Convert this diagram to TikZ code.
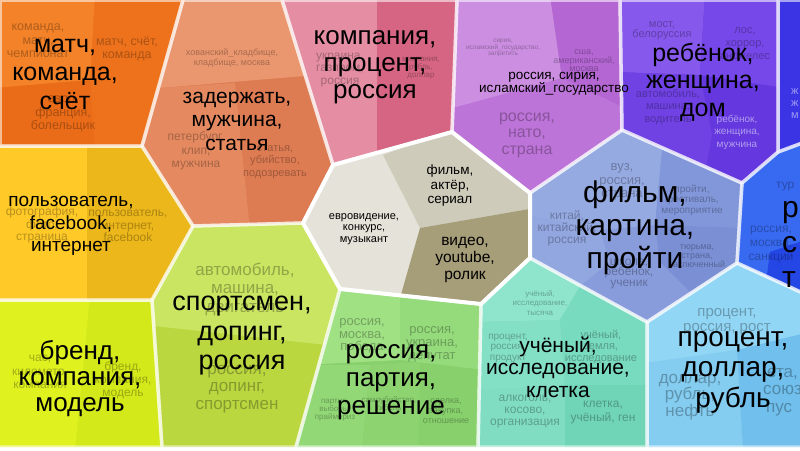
\documentclass[tikz,border=0pt]{standalone}
\usepackage{fontspec}
\setmainfont{Liberation Sans}
\newcommand{\fsz}[2]{\fontsize{#1}{#2}\selectfont}
\definecolor{orA}{RGB}{243,130,40}\definecolor{orB}{RGB}{238,114,28}\definecolor{orC}{RGB}{235,108,24}
\definecolor{saA}{RGB}{234,150,110}\definecolor{saB}{RGB}{229,138,96}\definecolor{saC}{RGB}{221,123,82}
\definecolor{piA}{RGB}{229,142,163}\definecolor{piB}{RGB}{213,101,131}
\definecolor{puA}{RGB}{203,142,224}\definecolor{puB}{RGB}{180,102,211}\definecolor{puC}{RGB}{189,116,216}
\definecolor{viA}{RGB}{134,88,236}\definecolor{viB}{RGB}{118,72,233}\definecolor{viC}{RGB}{112,66,228}\definecolor{viD}{RGB}{100,56,222}
\definecolor{dbl}{RGB}{58,52,228}
\definecolor{bbA}{RGB}{56,106,241}\definecolor{bbB}{RGB}{36,70,228}
\definecolor{slA}{RGB}{150,170,226}\definecolor{slB}{RGB}{130,151,218}\definecolor{slC}{RGB}{146,166,224}\definecolor{slD}{RGB}{122,143,212}\definecolor{slE}{RGB}{136,156,220}
\definecolor{lbA}{RGB}{146,214,245}\definecolor{lbB}{RGB}{132,204,240}\definecolor{lbC}{RGB}{112,191,236}
\definecolor{teA}{RGB}{142,229,203}\definecolor{teB}{RGB}{132,224,196}\definecolor{teC}{RGB}{120,218,190}\definecolor{teD}{RGB}{128,221,193}\definecolor{teE}{RGB}{112,212,183}
\definecolor{lgA}{RGB}{160,225,132}\definecolor{lgB}{RGB}{149,219,123}\definecolor{lgC}{RGB}{146,216,118}\definecolor{lgD}{RGB}{141,212,113}\definecolor{lgE}{RGB}{135,208,108}
\definecolor{grA}{RGB}{202,229,98}\definecolor{grB}{RGB}{186,215,64}
\definecolor{liA}{RGB}{224,241,32}\definecolor{liB}{RGB}{212,233,26}
\definecolor{yeA}{RGB}{255,201,40}\definecolor{yeB}{RGB}{236,183,26}
\definecolor{euC}{RGB}{229,227,217}\definecolor{fiC}{RGB}{207,203,187}\definecolor{viC2}{RGB}{166,157,121}
\begin{document}
\begin{tikzpicture}[x=1pt,y=-1pt,
  big/.style={align=center, inner sep=0pt, text=black},
  sml/.style={align=center, inner sep=0pt, text=black, text opacity=0.28},
  wsml/.style={align=center, inner sep=0pt, text=white, text opacity=0.5},
  cellborder/.style={draw=white, draw opacity=0.55, line width=3.5pt, line join=round},
  orangeP/.style={insert path={(0,0)--(183,0)--(142,146)--(0,146)--cycle}},
  salmonP/.style={insert path={(183,0)--(282,0)--(333,165)--(303,223)--(193,226)--(142,146)--cycle}},
  pinkP/.style={insert path={(282,0)--(457,0)--(452,132)--(333,165)--cycle}},
  purpleP/.style={insert path={(457,0)--(620,0)--(622,130)--(530,193)--(452,132)--cycle}},
  violetP/.style={insert path={(620,0)--(778,0)--(778,152)--(742,183)--(622,130)--cycle}},
  dblueP/.style={insert path={(778,0)--(805,0)--(805,142)--(778,152)--cycle}},
  bblueP/.style={insert path={(778,152)--(805,142)--(805,294)--(737,263)--(742,183)--cycle}},
  slateP/.style={insert path={(530,193)--(622,130)--(742,183)--(737,263)--(647,322)--(530,258)--cycle}},
  greyP/.style={insert path={(333,165)--(452,132)--(530,193)--(530,258)--(481,304)--(340,289)--(303,223)--cycle}},
  yellowP/.style={insert path={(-5,146)--(142,146)--(193,226)--(152,300)--(-5,300)--cycle}},
  limeP/.style={insert path={(-5,300)--(152,300)--(162,447)--(-5,447)--cycle}},
  greenP/.style={insert path={(193,226)--(303,223)--(340,289)--(296,447)--(162,447)--(152,300)--cycle}},
  lgreenP/.style={insert path={(340,289)--(481,304)--(478,447)--(296,447)--cycle}},
  tealP/.style={insert path={(481,304)--(530,258)--(647,322)--(647,447)--(478,447)--cycle}},
  lblueP/.style={insert path={(647,322)--(737,263)--(805,294)--(805,447)--(647,447)--cycle}},
]
\useasboundingbox (0,0) rectangle (800,450);
\clip (0,0) rectangle (800,450);
\fill[white] (0,0) rectangle (800,450);

% orange
\begin{scope}\clip[orangeP];
\fill[orB] (0,0) rectangle (200,150);
\fill[orA] (-5,-5)--(95,-5)--(90,80)--(-5,88)--cycle;
\fill[orC] (-5,88)--(90,80)--(95,150)--(-5,150)--cycle;
\end{scope}
% salmon
\begin{scope}\clip[salmonP];
\fill[saC] (130,-5) rectangle (340,230);
\fill[saA] (180,-5)--(290,-5)--(305,76)--(160,88)--cycle;
\fill[saB] (130,88)--(160,88)--(235,83)--(250,230)--(130,230)--cycle;
\end{scope}
% pink
\begin{scope}\clip[pinkP];
\fill[piB] (280,-5) rectangle (460,170);
\fill[piA] (280,-5) rectangle (377,170);
\end{scope}
% purple
\begin{scope}\clip[purpleP];
\fill[puC] (445,-5) rectangle (625,200);
\fill[puA] (445,-5)--(550,-5)--(562,78)--(445,110)--cycle;
\fill[puB] (550,-5)--(625,-5)--(625,108)--(562,78)--cycle;
\end{scope}
% violet
\begin{scope}\clip[violetP];
\fill[viD] (615,-5) rectangle (785,190);
\fill[viA] (615,-5)--(705,-5)--(700,75)--(615,72)--cycle;
\fill[viB] (705,-5)--(785,-5)--(785,88)--(700,75)--cycle;
\fill[viC] (615,72)--(700,75)--(712,135)--(700,200)--(615,200)--cycle;
\end{scope}
% dark blue
\fill[dbl, dblueP];
% bright blue
\begin{scope}\clip[bblueP];
\fill[bbA] (730,140) rectangle (805,300);
\fill[bbB] (770,252)--(805,240)--(805,300)--(765,290)--cycle;
\end{scope}
% slate
\begin{scope}\clip[slateP];
\fill[slE] (525,125) rectangle (745,325);
\fill[slA] (525,190)--(622,128)--(662,150)--(655,225)--(600,230)--(525,215)--cycle;
\fill[slB] (662,150)--(745,185)--(745,228)--(655,225)--cycle;
\fill[slC] (525,215)--(600,230)--(610,262)--(575,290)--(525,262)--cycle;
\fill[slD] (655,225)--(745,228)--(740,265)--(690,292)--(660,262)--cycle;
\end{scope}
% grey
\begin{scope}\clip[greyP];
\fill[euC] (300,125) rectangle (535,310);
\fill[fiC] (383,155)--(455,128)--(535,193)--(535,208)--(420,228)--cycle;
\fill[viC2] (420,228)--(535,208)--(535,258)--(485,308)--(400,298)--cycle;
\end{scope}
% yellow
\begin{scope}\clip[yellowP];
\fill[yeB] (-5,140) rectangle (200,305);
\fill[yeA] (-5,140) rectangle (87,305);
\end{scope}
% lime
\begin{scope}\clip[limeP];
\fill[liB] (-5,295) rectangle (170,450);
\fill[liA] (-5,295)--(90,295)--(75,450)--(-5,450)--cycle;
\end{scope}
% green
\begin{scope}\clip[greenP];
\fill[grB] (145,220) rectangle (345,450);
\fill[grA] (145,220)--(345,220)--(345,347)--(145,325)--cycle;
\end{scope}
% light green
\begin{scope}\clip[lgreenP];
\fill[lgE] (290,285) rectangle (485,450);
\fill[lgA] (330,285)--(400,295)--(400,360)--(300,365)--cycle;
\fill[lgB] (400,295)--(485,300)--(485,370)--(400,360)--cycle;
\fill[lgC] (300,365)--(370,365)--(362,450)--(290,450)--cycle;
\fill[lgD] (370,365)--(420,362)--(418,450)--(362,450)--cycle;
\end{scope}
% teal
\begin{scope}\clip[tealP];
\fill[teD] (475,255) rectangle (650,450);
\fill[teA] (478,300)--(530,255)--(582,283)--(560,320)--(478,322)--cycle;
\fill[teB] (475,322)--(560,320)--(565,385)--(475,390)--cycle;
\fill[teC] (560,320)--(582,283)--(650,322)--(650,385)--(565,385)--cycle;
\fill[teE] (565,385) rectangle (650,450);
\end{scope}
% light blue
\begin{scope}\clip[lblueP];
\fill[lbA] (645,260) rectangle (805,450);
\fill[lbB] (645,363)--(737,350)--(743,450)--(645,450)--cycle;
\fill[lbC] (737,350)--(805,333)--(805,450)--(743,450)--cycle;
\end{scope}

% borders
\foreach \p in {orangeP,salmonP,pinkP,purpleP,violetP,dblueP,bblueP,slateP,yellowP,limeP,greenP,lgreenP,tealP,lblueP}
  {\path[cellborder,\p];}
\draw[white, line width=4pt, line join=round, greyP];

% ---------- texts
% orange
\node[sml, font=\fsz{12.5}{13.5}] (s_kom) at (38,41) {команда,\\матч,\\чемпионат};
\node[sml, font=\fsz{12.5}{13.5}] (s_mss) at (127,49) {матч, счёт,\\команда};
\node[sml, font=\fsz{12.5}{13.5}] (s_evro) at (63,114) {евро,\\франция,\\болельщик};
\node[big, font=\fsz{25}{28.5}] (t_match) at (65,74) {матч,\\команда,\\счёт};
% salmon
\node[sml, font=\fsz{9}{9.5}] (s_hov) at (232,58) {хованский\_кладбище,\\кладбище, москва};
\node[sml, font=\fsz{12}{13.5}] (s_pet) at (196,151) {петербург,\\клип,\\мужчина};
\node[sml, font=\fsz{11}{12.5}] (s_stat) at (275,162) {статья,\\убийство,\\подозревать};
\node[big, font=\fsz{21}{23.5}] (t_zad) at (237,121) {задержать,\\мужчина,\\статья};
% pink
\node[sml, font=\fsz{12}{12.5}] (s_ukr) at (340,70) {украина,\\газпром,\\россия};
\node[sml, font=\fsz{8}{8}] (s_krd) at (421,68) {компания,\\рубль,\\доллар};
\node[big, font=\fsz{26}{27}] (t_komp) at (375,67) {компания,\\процент,\\россия};
% purple
\node[sml, font=\fsz{6.5}{6.5}] (s_sir) at (503,48) {сирия,\\исламский\_государство,\\запретить};
\node[sml, font=\fsz{9}{8.5}] (s_ssha) at (584,61) {сша,\\американский,\\москва};
\node[sml, font=\fsz{16}{16.5}] (s_nato) at (527,135) {россия,\\нато,\\страна};
\node[big, font=\fsz{13.5}{13.5}] (t_ros) at (554,84) {россия, сирия,\\исламский\_государство};
% violet
\node[sml, font=\fsz{11}{10}] (s_most) at (662,31) {мост,\\белоруссия};
\node[sml, font=\fsz{11}{13}] (s_los) at (745,45) {лос,\\хоррор,\\анджелес};
\node[sml, font=\fsz{11}{12.5}] (s_avto2) at (668,107) {автомобиль,\\машина,\\водитель};
\node[wsml, font=\fsz{10}{12.5}] (s_rzm) at (737,132) {ребёнок,\\женщина,\\мужчина};
\node[big, font=\fsz{25}{27.5}] (t_reb) at (703,82) {ребёнок,\\женщина,\\дом};
% dark blue / bright blue
\node[wsml, font=\fsz{11}{12}, anchor=west, align=left] (s_zzm) at (791,104) {ж\\ж\\м};
\node[sml, font=\fsz{12}{14}, anchor=west] (s_turc) at (776,187) {тур};
\node[sml, font=\fsz{12}{14}] (s_rms) at (771,244) {россия,\\москва,\\санкции};
\node[big, font=\fsz{30}{35}, anchor=west, align=left] (t_rst) at (782,244) {р\\с\\т};
% yellow
\node[sml, font=\fsz{12}{12.5}] (s_foto) at (42,225) {фотография,\\фото,\\страница};
\node[sml, font=\fsz{12}{12.5}] (s_pif) at (128,226) {пользователь,\\интернет,\\facebook};
\node[big, font=\fsz{19}{22.5}] (t_pol) at (71,226) {пользователь,\\facebook,\\интернет};
% lime
\node[sml, font=\fsz{12}{13.5}] (s_chas) at (40,372) {час,\\километр,\\компания};
\node[sml, font=\fsz{12}{13}] (s_bkm) at (123,380) {бренд,\\компания,\\модель};
\node[big, font=\fsz{26}{26}] (t_brend) at (80,379) {бренд,\\компания,\\модель};
% green
\node[sml, font=\fsz{17}{18.5}] (s_avto) at (245,289) {автомобиль,\\машина,\\двигатель};
\node[sml, font=\fsz{17}{17.5}] (s_dop) at (237,389) {россия,\\допинг,\\спортсмен};
\node[big, font=\fsz{27}{29.5}] (t_sport) at (242,336) {спортсмен,\\допинг,\\россия};
% light green
\node[sml, font=\fsz{13}{12.5}] (s_rmp) at (362,336) {россия,\\москва,\\победа};
\node[sml, font=\fsz{13}{13}] (s_rud) at (432,344) {россия,\\украина,\\депутат};
\node[sml, font=\fsz{8}{8}] (s_pvp) at (335,410) {партия,\\выборы,\\праймериз};
\node[sml, font=\fsz{8}{8}] (s_sam) at (389,404) {самоубийство,\\гибель};
\node[sml, font=\fsz{9}{10}] (s_son) at (446,411) {сделка,\\закупка,\\отношение};
\node[big, font=\fsz{26}{28}] (t_part) at (391,382) {россия,\\партия,\\решение};
% grey
\node[big, font=\fsz{11}{11.5}] (t_evro) at (364,229) {евровидение,\\конкурс,\\музыкант};
\node[big, font=\fsz{13.5}{14.5}] (t_film2) at (450,186) {фильм,\\актёр,\\сериал};
\node[big, font=\fsz{15.5}{17}] (t_video) at (465,260) {видео,\\youtube,\\ролик};
% slate
\node[sml, font=\fsz{13}{13.5}] (s_vuz) at (622,182) {вуз,\\россия,\\страна};
\node[sml, font=\fsz{10}{10.5}] (s_fest) at (692,200) {пройти,\\фестиваль,\\мероприятие};
\node[sml, font=\fsz{12}{12}] (s_kit) at (567,228) {китай,\\китайский,\\россия};
\node[sml, font=\fsz{9}{9}] (s_tur) at (697,256) {тюрьма,\\страна,\\заключенный};
\node[sml, font=\fsz{12}{10.5}] (s_uch) at (629,274) {школа,\\ребёнок,\\ученик};
\node[big, font=\fsz{30}{33}] (t_film) at (635,228) {фильм,\\картина,\\пройти};
% teal
\node[sml, font=\fsz{8}{9.5}] (s_uit) at (540,303) {учёный,\\исследование,\\тысяча};
\node[sml, font=\fsz{10}{10.5}] (s_prp) at (508,348) {процент,\\россия,\\продукт};
\node[sml, font=\fsz{11}{11.5}] (s_uzi) at (601,347) {учёный,\\земля,\\исследование};
\node[sml, font=\fsz{12}{12}] (s_alk) at (525,412) {алкоголь,\\косово,\\организация};
\node[sml, font=\fsz{12}{14}] (s_kug) at (603,413) {клетка,\\учёный, ген};
\node[big, font=\fsz{21}{22.5}] (t_uch) at (558,367) {учёный,\\исследование,\\клетка};
% light blue
\node[sml, font=\fsz{15}{15}] (s_prr) at (727,322) {процент,\\россия, рост};
\node[sml, font=\fsz{17}{16.5}] (s_drn) at (690,397) {доллар,\\рубль,\\нефть};
\node[sml, font=\fsz{17}{17.5}, anchor=west, align=left] (s_right) at (763,392) {\hspace{4pt}ета,\\союз,\\\hspace{3pt}пус};
\node[big, font=\fsz{28}{30.5}] (t_proc) at (733,372) {процент,\\доллар,\\рубль};
\end{tikzpicture}
\end{document}
